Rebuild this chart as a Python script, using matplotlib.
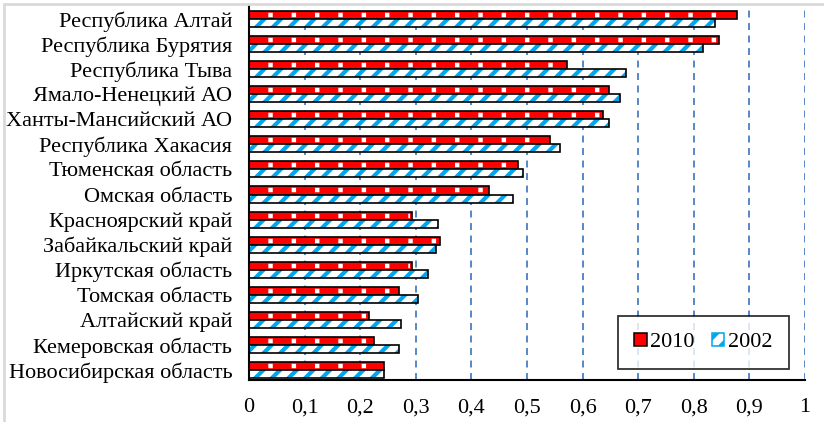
import matplotlib
matplotlib.use("Agg")
import matplotlib.pyplot as plt
from matplotlib.patches import Patch, Rectangle
import numpy as np

regions = ["Республика Алтай", "Республика Бурятия", "Республика Тыва",
           "Ямало-Ненецкий АО", "Ханты-Мансийский АО", "Республика Хакасия",
           "Тюменская область", "Омская область", "Красноярский край",
           "Забайкальский край", "Иркутская область", "Томская область",
           "Алтайский край", "Кемеровская область", "Новосибирская область"]
values_2010 = [0.878, 0.846, 0.572, 0.648, 0.637, 0.542, 0.484, 0.432, 0.293,
               0.344, 0.293, 0.270, 0.216, 0.224, 0.242]
values_2002 = [0.839, 0.817, 0.678, 0.667, 0.648, 0.560, 0.493, 0.475, 0.340,
               0.337, 0.322, 0.304, 0.274, 0.270, 0.242]
x_ticks = [0, 0.1, 0.2, 0.3, 0.4, 0.5, 0.6, 0.7, 0.8, 0.9, 1.0]
x_tick_labels = ["0", "0,1", "0,2", "0,3", "0,4", "0,5", "0,6", "0,7", "0,8", "0,9", "1"]
series_labels = ["2010", "2002"]

plt.rcParams['font.family'] = ['Liberation Serif', 'DejaVu Serif']
plt.rcParams['hatch.linewidth'] = 3.0
plt.rcParams['lines.scale_dashes'] = False

RED = "#FF0000"
BLUE = "#00A6EE"
GRID = "#4A7EC0"
FS = 16

fig = plt.figure(figsize=(8.24, 4.22), dpi=100)
ax = fig.add_axes([249/824, 1 - 380/422, (805 - 249)/824, (380 - 5)/422])

y = np.arange(len(regions))
h = 0.32
y_red = y - h/2
y_blue = y + h/2

# 2010 bars: red with white dashes
ax.barh(y_red, values_2010, height=h, color=RED, edgecolor="black", linewidth=1.2, zorder=3)
for yy, v in zip(y_red, values_2010):
    ax.plot([0, v - 0.004], [yy, yy], color="white", lw=3.2,
            linestyle=(2.9, (3.2, 13.6)), solid_capstyle="butt",
            dash_capstyle="butt", zorder=4)

# 2002 bars: white with blue diagonal hatch
ax.barh(y_blue, values_2002, height=h, facecolor="white", edgecolor=BLUE,
        hatch="//", linewidth=0, zorder=3)
ax.barh(y_blue, values_2002, height=h, fill=False, edgecolor="black",
        linewidth=1.2, zorder=5)

ax.set_xlim(0, 1.0)
ax.set_ylim(len(regions) - 0.6, -0.56)
ax.set_xticks(x_ticks)
ax.set_xticklabels(x_tick_labels, fontsize=FS)
ax.set_yticks(y)
ax.set_yticklabels(regions, fontsize=FS)
ax.tick_params(axis='both', length=0)
ax.tick_params(axis='x', pad=13)
ax.tick_params(axis='y', pad=12)

for xv in x_ticks[1:]:
    ax.axvline(xv, color=GRID, lw=1.3, linestyle=(0, (5, 4)), zorder=1)

for s in ["top", "right"]:
    ax.spines[s].set_visible(False)
ax.spines["left"].set_linewidth(1.5)
ax.spines["bottom"].set_linewidth(1.5)
ax.spines["left"].set_zorder(6)

handles = [Patch(facecolor=RED, edgecolor="black", linewidth=1.1),
           Patch(facecolor="white", edgecolor=BLUE, hatch="//", linewidth=1.1)]
leg = ax.legend(handles, series_labels, loc="lower right",
                bbox_to_anchor=(0.971, 0.029), borderaxespad=0, ncol=2,
                fontsize=FS, frameon=True, fancybox=False, handlelength=0.55,
                handleheight=0.55, handletextpad=0.15, columnspacing=0.8,
                borderpad=0.75)
leg.get_frame().set_edgecolor("black")
leg.get_frame().set_linewidth(1.3)
leg.set_zorder(10)

fig.add_artist(Rectangle((4/824, -0.1), 1.2, 1 - 4/422 + 0.1, transform=fig.transFigure,
                         fill=False, edgecolor="#D9D9D9", linewidth=2))

fig.savefig("out.png", dpi=100)
